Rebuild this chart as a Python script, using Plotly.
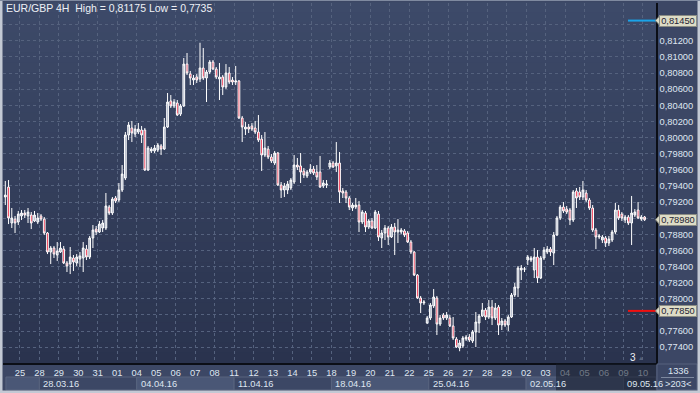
import plotly.graph_objects as go

# ---------------- data (EUR/GBP, 4H candles) ----------------
opens = [0.79262,0.79386,0.78940,0.78989,0.78952,0.79027,0.79064,0.79027,0.79039,0.78965,
         0.78952,0.79027,0.78989,0.78816,0.78580,0.78630,0.78543,0.78580,0.78617,0.78444,
         0.78431,0.78506,0.78444,0.78493,0.78506,0.78617,0.78518,0.78754,0.78865,0.78828,
         0.78878,0.78878,0.79138,0.79064,0.79250,0.79225,0.79349,0.79498,0.80031,0.80118,
         0.80043,0.80068,0.80093,0.80093,0.79597,0.79833,0.79833,0.79845,0.79895,0.79857,
         0.80130,0.80453,0.80391,0.80428,0.80291,0.80391,0.80911,0.80787,0.80713,0.80750,
         0.80725,0.80862,0.80738,0.80812,0.80936,0.80849,0.80725,0.80750,0.80626,0.80800,
         0.80713,0.80688,0.80701,0.80242,0.80105,0.80130,0.80143,0.80118,0.80068,0.79981,
         0.79783,0.79857,0.79758,0.79684,0.79808,0.79411,0.79349,0.79349,0.79374,0.79448,
         0.79659,0.79647,0.79585,0.79523,0.79572,0.79609,0.79572,0.79572,0.79399,0.79411,
         0.79634,0.79684,0.79647,0.79684,0.79337,0.79324,0.79250,0.79126,0.79138,0.79163,
         0.78952,0.79064,0.78890,0.78965,0.78878,0.79051,0.78754,0.78816,0.78878,0.78766,
         0.78890,0.78828,0.78828,0.78841,0.78816,0.78704,0.78580,0.78295,0.78010,0.77948,
         0.77700,0.77762,0.77911,0.78010,0.77687,0.77799,0.77762,0.77762,0.77663,0.77501,
         0.77390,0.77415,0.77501,0.77526,0.77477,0.77588,0.77700,0.77787,0.77861,0.77774,
         0.77898,0.77762,0.77898,0.77675,0.77725,0.77675,0.77774,0.78047,0.78134,0.78357,
         0.78369,0.78481,0.78481,0.78357,0.78518,0.78258,0.78506,0.78580,0.78617,0.78568,
         0.78791,0.79002,0.79138,0.79113,0.79101,0.78977,0.79337,0.79324,0.79262,0.79312,
         0.79225,0.79126,0.78853,0.78766,0.78729,0.78754,0.78692,0.78729,0.78828,0.79101,
         0.79051,0.78977,0.79014,0.78940,0.79039,0.79101,0.78989,0.79014]
highs = [0.79461,0.79473,0.79126,0.79027,0.79089,0.79101,0.79101,0.79126,0.79076,0.79089,
         0.79064,0.79051,0.79014,0.78828,0.78655,0.78655,0.78704,0.78704,0.78655,0.78469,
         0.78642,0.78543,0.78555,0.78580,0.78704,0.78667,0.78779,0.78915,0.78903,0.78965,
         0.78977,0.79312,0.79163,0.79262,0.79275,0.79436,0.79659,0.80068,0.80192,0.80205,
         0.80155,0.80180,0.80143,0.80118,0.79895,0.79882,0.79907,0.79932,0.79919,0.80242,
         0.80552,0.80527,0.80477,0.80465,0.80415,0.80986,0.81048,0.80825,0.80775,0.80787,
         0.81175,0.81110,0.80837,0.80961,0.80961,0.80874,0.80924,0.80775,0.80911,0.80874,
         0.80750,0.80887,0.80713,0.80267,0.80192,0.80168,0.80180,0.80205,0.80279,0.80031,
         0.80068,0.79895,0.79795,0.79833,0.79820,0.79448,0.79436,0.79461,0.79498,0.79783,
         0.79746,0.79808,0.79622,0.79597,0.79671,0.79647,0.79659,0.79771,0.79473,0.79473,
         0.79721,0.79709,0.79944,0.79820,0.79374,0.79349,0.79275,0.79188,0.79250,0.79213,
         0.79101,0.79089,0.78989,0.79002,0.79101,0.79089,0.78853,0.78915,0.78903,0.78927,
         0.78940,0.78989,0.78878,0.78865,0.78841,0.78729,0.78593,0.78307,0.78035,0.77985,
         0.77787,0.77948,0.78121,0.78035,0.77799,0.77824,0.77836,0.77799,0.77774,0.77526,
         0.77489,0.77539,0.77551,0.77563,0.77613,0.77836,0.77811,0.77948,0.77886,0.77985,
         0.77985,0.77948,0.77923,0.77762,0.77749,0.77799,0.78072,0.78196,0.78407,0.78419,
         0.78394,0.78543,0.78531,0.78630,0.78605,0.78531,0.78642,0.78655,0.78642,0.78828,
         0.79027,0.79163,0.79200,0.79151,0.79126,0.79349,0.79374,0.79386,0.79461,0.79349,
         0.79250,0.79163,0.78878,0.78803,0.78791,0.78779,0.78779,0.78853,0.79188,0.79163,
         0.79076,0.79039,0.79039,0.79275,0.79113,0.79200,0.79039,0.79027]
lows = [0.79163,0.78927,0.78878,0.78816,0.78915,0.78977,0.79002,0.78940,0.78865,0.78952,
        0.78927,0.78965,0.78791,0.78555,0.78431,0.78506,0.78469,0.78568,0.78431,0.78332,
        0.78307,0.78345,0.78407,0.78394,0.78332,0.78481,0.78493,0.78630,0.78791,0.78816,
        0.78828,0.78853,0.79039,0.79039,0.79188,0.79200,0.79324,0.79473,0.79969,0.79944,
        0.80006,0.80043,0.79932,0.79585,0.79585,0.79808,0.79808,0.79820,0.79783,0.79845,
        0.80118,0.80366,0.80366,0.80267,0.80267,0.80378,0.80775,0.80651,0.80651,0.80676,
        0.80688,0.80713,0.80440,0.80787,0.80837,0.80725,0.80465,0.80527,0.80601,0.80663,
        0.80651,0.80651,0.80229,0.79944,0.80031,0.80056,0.80081,0.80043,0.79944,0.79585,
        0.79758,0.79733,0.79684,0.79659,0.79399,0.79250,0.79262,0.79299,0.79349,0.79423,
        0.79597,0.79436,0.79498,0.79498,0.79547,0.79535,0.79473,0.79374,0.79374,0.79374,
        0.79609,0.79622,0.79572,0.79188,0.79250,0.79188,0.79101,0.79089,0.79113,0.78828,
        0.78927,0.78828,0.78865,0.78865,0.78865,0.78717,0.78630,0.78729,0.78667,0.78754,
        0.78543,0.78692,0.78803,0.78766,0.78692,0.78555,0.78283,0.77997,0.77824,0.77923,
        0.77687,0.77737,0.77886,0.77551,0.77663,0.77737,0.77737,0.77650,0.77489,0.77390,
        0.77350,0.77390,0.77477,0.77464,0.77452,0.77402,0.77576,0.77774,0.77737,0.77749,
        0.77675,0.77737,0.77551,0.77613,0.77650,0.77601,0.77762,0.78022,0.78022,0.78233,
        0.78332,0.78419,0.78456,0.78258,0.78196,0.78245,0.78481,0.78555,0.78531,0.78419,
        0.78779,0.78977,0.79064,0.79051,0.78915,0.78952,0.79126,0.79225,0.79225,0.79200,
        0.79101,0.78828,0.78617,0.78741,0.78692,0.78642,0.78655,0.78704,0.78803,0.78977,
        0.78965,0.78940,0.78915,0.78667,0.79014,0.78989,0.78965,0.78965]
closes = [0.79287,0.79002,0.79002,0.78940,0.79051,0.79064,0.79039,0.79076,0.78940,0.79039,
          0.79002,0.78989,0.78816,0.78580,0.78630,0.78555,0.78593,0.78630,0.78444,0.78407,
          0.78518,0.78456,0.78518,0.78531,0.78630,0.78518,0.78754,0.78853,0.78828,0.78927,
          0.78940,0.79151,0.79064,0.79237,0.79213,0.79349,0.79547,0.80031,0.80155,0.80056,
          0.80105,0.80105,0.80031,0.79597,0.79870,0.79857,0.79870,0.79907,0.79857,0.80130,
          0.80440,0.80391,0.80440,0.80279,0.80391,0.80911,0.80800,0.80738,0.80738,0.80713,
          0.80862,0.80738,0.80812,0.80936,0.80849,0.80750,0.80750,0.80626,0.80800,0.80688,
          0.80688,0.80701,0.80242,0.80130,0.80130,0.80105,0.80105,0.80068,0.79969,0.79783,
          0.79870,0.79758,0.79709,0.79808,0.79411,0.79349,0.79399,0.79423,0.79473,0.79659,
          0.79634,0.79572,0.79535,0.79572,0.79609,0.79560,0.79510,0.79386,0.79436,0.79423,
          0.79684,0.79634,0.79684,0.79324,0.79312,0.79250,0.79138,0.79163,0.79163,0.78952,
          0.79076,0.78890,0.78965,0.78878,0.79076,0.78766,0.78816,0.78878,0.78766,0.78890,
          0.78828,0.78853,0.78853,0.78791,0.78704,0.78580,0.78295,0.78010,0.77948,0.77960,
          0.77762,0.77923,0.78022,0.77687,0.77762,0.77762,0.77799,0.77663,0.77514,0.77402,
          0.77452,0.77514,0.77526,0.77489,0.77588,0.77712,0.77787,0.77861,0.77774,0.77898,
          0.77762,0.77886,0.77675,0.77725,0.77675,0.77774,0.78047,0.78146,0.78382,0.78382,
          0.78369,0.78518,0.78506,0.78518,0.78258,0.78506,0.78605,0.78617,0.78580,0.78791,
          0.79002,0.79138,0.79089,0.79076,0.78977,0.79324,0.79250,0.79262,0.79349,0.79225,
          0.79126,0.78853,0.78766,0.78779,0.78766,0.78692,0.78741,0.78828,0.79101,0.79002,
          0.79002,0.79014,0.78940,0.79064,0.79076,0.79002,0.79014,0.78980]

# trading days shown on the axis (6 four-hour bars per day)
day_labels = ["25","28","29","30","31","01","04","05","06","07","08","11","12","13","14","15",
              "18","19","20","21","22","25","26","27","28","29","02","03","04","05","06","09","10"]
week_labels = ["21.03.16","28.03.16","04.04.16","11.04.16","18.04.16","25.04.16","02.05.16","09.05.16"]
week_first_day = [-3, 2, 7, 12, 17, 22, 27, 32]   # day number of each Monday (day 0 = 24.03)

price_ticks = [0.774 + 0.002 * i for i in range(21)]

level_high = 0.81450
level_low = 0.77850
last_price = 0.78980
title_text = "EUR/GBP 4H  High = 0,81175 Low = 0,7735"
bars_total = "1336"
bars_visible = ">203<"
marker_count = "3"

def fmt(v):
    return f"{v:.5f}".replace(".", ",")

# price labels hidden under the price tags are left blank
tag_levels = [level_high, last_price, level_low]
price_tick_text = ["" if any(abs(v - t) < 0.0008 for t in tag_levels) else fmt(v) for v in price_ticks]

# ---------------- geometry / style ----------------
W, H = 700, 393
ML, MR, MT, MB = 3, 44, 3, 30
PW, PH = W - ML - MR, H - MT - MB
BARS_PER_DAY = 6
X_RANGE = [-0.71, 200.52]
Y_RANGE = [0.77204, 0.81668]

def xp(px):
    return (px - ML) / PW

def yp(py):
    return (MT + PH - py) / PH

def day_pos(d):
    return BARS_PER_DAY * d - 1.5

FONT = "Liberation Sans, Arial, sans-serif"
TXT = "#dfe6f1"

x = list(range(len(opens)))

fig = go.Figure()
fig.add_trace(go.Candlestick(
    x=x, open=opens, high=highs, low=lows, close=closes,
    increasing=dict(line=dict(color="#ffffff", width=1), fillcolor="#a7b0c4"),
    decreasing=dict(line=dict(color="#ffffff", width=1), fillcolor="#ee1030"),
    whiskerwidth=0, showlegend=False, hoverinfo="skip",
))

shapes = []
# vertical gradient background of the price panel
top_c = (61, 74, 105)
bot_c = (42, 51, 78)
NB = 36
for i in range(NB):
    t = (i + 0.5) / NB
    c = tuple(round(top_c[j] + (bot_c[j] - top_c[j]) * t) for j in range(3))
    shapes.append(dict(type="rect", xref="paper", yref="paper", x0=0, x1=1,
                       y0=1 - (i + 1) / NB, y1=1 - i / NB + 0.002, layer="below",
                       line=dict(width=0), fillcolor="rgb(%d,%d,%d)" % c))

# week boxes in the axis area
for i, d in enumerate(week_first_day):
    x0 = max(day_pos(d), X_RANGE[0] + 0.9)
    x1 = min(day_pos(d + 5), X_RANGE[1])
    shapes.append(dict(type="rect", xref="x", yref="paper", x0=x0, x1=x1,
                       y0=yp(390), y1=yp(377), layer="above",
                       line=dict(color="#58647f", width=1),
                       fillcolor="#4a5776" if i % 2 == 0 else "#3c4765"))

# dark overlay at the right end of the time axis
shapes.append(dict(type="rect", xref="paper", yref="paper", x0=xp(556), x1=1,
                   y0=yp(391), y1=yp(363.5), layer="above", line=dict(width=0),
                   fillcolor="rgba(22,27,42,0.55)"))

# bottom-right counter box
shapes.append(dict(type="rect", xref="paper", yref="paper", x0=xp(657), x1=xp(697),
                   y0=yp(390), y1=yp(364), layer="above",
                   line=dict(color="#56627e", width=1), fillcolor="#3c4765"))
shapes.append(dict(type="line", xref="paper", yref="paper", x0=xp(661), x1=xp(694),
                   y0=yp(377.5), y1=yp(377.5), layer="above",
                   line=dict(color="#7d889f", width=1)))

# level lines
for lvl, col in [(level_high, "#1aa3e8"), (level_low, "#f01010")]:
    shapes.append(dict(type="line", xref="paper", yref="y", x0=xp(628), x1=1,
                       y0=lvl, y1=lvl, layer="above", line=dict(color=col, width=2)))

# tag pointers
dp = 4.5 / PH * (Y_RANGE[1] - Y_RANGE[0])
for lvl in tag_levels:
    shapes.append(dict(type="path", xref="paper", yref="y",
                       path=f"M {xp(655.5)},{lvl} L {xp(659.5)},{lvl + dp} L {xp(659.5)},{lvl - dp} Z",
                       layer="above", line=dict(color="#8a8c84", width=1), fillcolor="#dddcc6"))

# outer frame
frame = "#c3c9d4"
shapes.append(dict(type="rect", xref="paper", yref="paper", x0=xp(0), x1=xp(2.5),
                   y0=yp(393), y1=yp(0), layer="above", line=dict(width=0), fillcolor=frame))
shapes.append(dict(type="rect", xref="paper", yref="paper", x0=xp(697.5), x1=xp(700),
                   y0=yp(393), y1=yp(0), layer="above", line=dict(width=0), fillcolor=frame))
shapes.append(dict(type="rect", xref="paper", yref="paper", x0=xp(0), x1=xp(700),
                   y0=yp(393), y1=yp(390.5), layer="above", line=dict(width=0), fillcolor=frame))
shapes.append(dict(type="rect", xref="paper", yref="paper", x0=xp(0), x1=xp(700),
                   y0=yp(1), y1=yp(0), layer="above", line=dict(width=0), fillcolor="#7f8aa0"))

annotations = []
annotations.append(dict(xref="paper", yref="paper", x=xp(4), y=yp(8), xanchor="left",
                        yanchor="middle", text=title_text, showarrow=False,
                        font=dict(family=FONT, size=10.5, color="#eef1f6")))
for i, d in enumerate(week_first_day):
    if day_pos(d) < X_RANGE[0]:
        continue
    annotations.append(dict(xref="x", yref="paper", x=day_pos(d), y=yp(383.5), xanchor="left",
                            yanchor="middle", xshift=2, text=week_labels[i], showarrow=False,
                            font=dict(family=FONT, size=9.3, color=TXT)))
for lvl in tag_levels:
    annotations.append(dict(xref="paper", yref="y", x=xp(659), y=lvl, xanchor="left",
                            yanchor="middle", text=fmt(lvl),
                            showarrow=False, bgcolor="#dddcc6", bordercolor="#8a8c84",
                            borderwidth=1, borderpad=0, width=36, height=10,
                            font=dict(family=FONT, size=9.3, color="#1d2333")))
annotations.append(dict(xref="paper", yref="paper", x=xp(633), y=yp(357.5), text=marker_count,
                        xanchor="center", yanchor="middle",
                        showarrow=False, font=dict(family=FONT, size=10, color="#eef1f6")))
annotations.append(dict(xref="paper", yref="paper", x=xp(641), y=yp(358), text="▲",
                        xanchor="center", yanchor="middle",
                        showarrow=False, font=dict(family=FONT, size=6, color="#56617a")))
annotations.append(dict(xref="paper", yref="paper", x=xp(678), y=yp(371), text=bars_total,
                        xanchor="center", yanchor="middle",
                        showarrow=False, font=dict(family=FONT, size=9.3, color=TXT)))
annotations.append(dict(xref="paper", yref="paper", x=xp(678), y=yp(384), text=bars_visible,
                        xanchor="center", yanchor="middle",
                        showarrow=False, font=dict(family=FONT, size=9.3, color=TXT)))

fig.update_layout(
    width=W, height=H, margin=dict(l=ML, r=MR, t=MT, b=MB),
    paper_bgcolor="#3c4765", plot_bgcolor="#36425f",
    boxgap=0.25, showlegend=False, hovermode=False,
    shapes=shapes, annotations=annotations,
    font=dict(family=FONT, size=9.3, color=TXT),
    xaxis=dict(range=X_RANGE, rangeslider=dict(visible=False),
               tickmode="array", tickvals=[day_pos(d) for d in range(1, len(day_labels) + 1)],
               ticktext=day_labels, ticks="", showgrid=True, gridcolor="#55627e",
               griddash="3px,3px", gridwidth=1, zeroline=False,
               showline=True, linecolor="#0b0e16", linewidth=1.5,
               tickfont=dict(family=FONT, size=9.3, color=TXT)),
    yaxis=dict(range=Y_RANGE, side="right", tickmode="array", tickvals=price_ticks,
               ticktext=price_tick_text, ticks="", showgrid=True, gridcolor="#55627e",
               griddash="3px,3px", gridwidth=1, zeroline=False,
               showline=True, linecolor="#0b0e16", linewidth=1.5,
               tickfont=dict(family=FONT, size=9.3, color=TXT)),
)

fig.write_html("out.html", config={"displayModeBar": False},
               post_script="document.body.style.margin='0';document.body.style.overflow='hidden';")
